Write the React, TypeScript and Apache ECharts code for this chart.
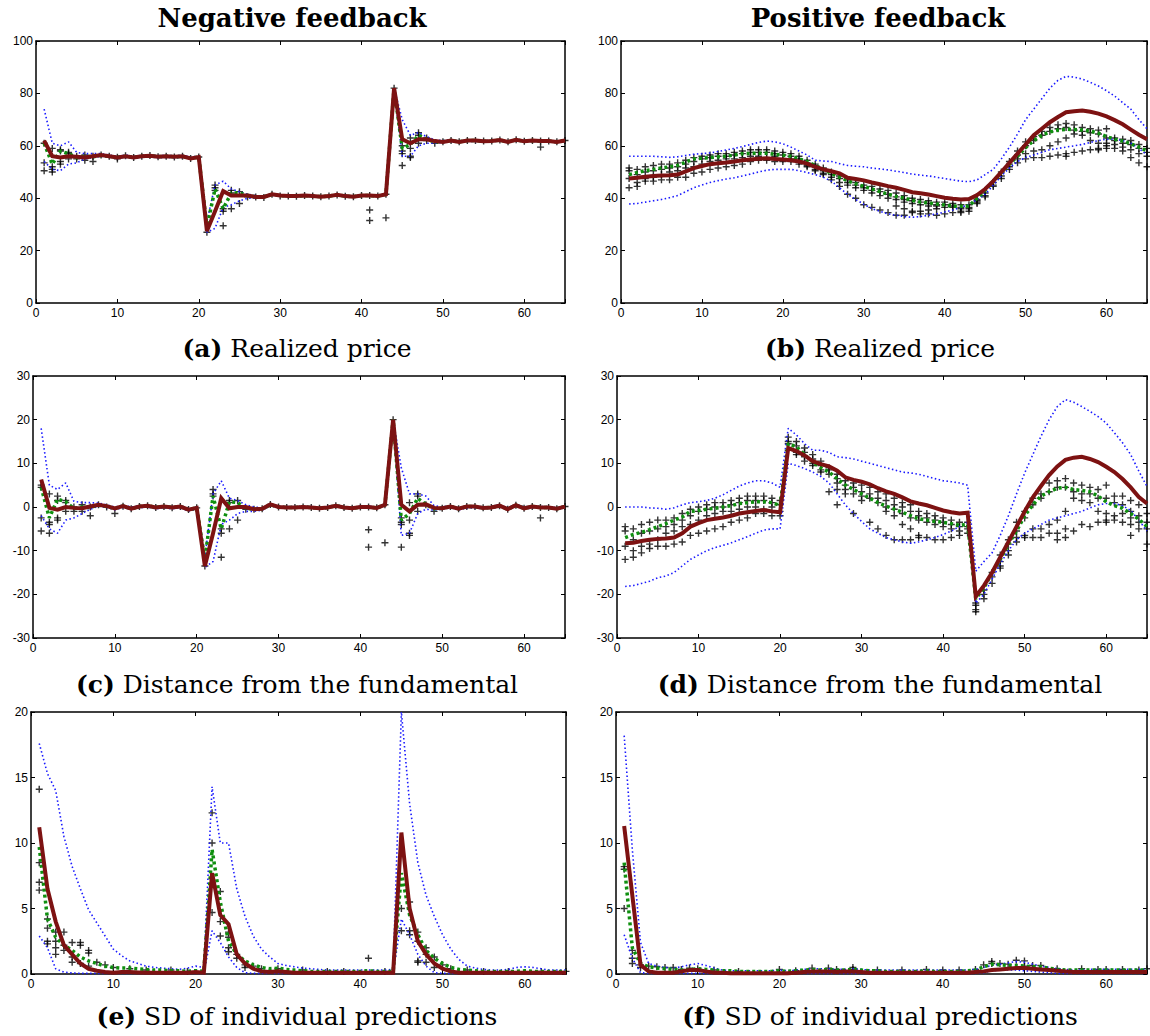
import React, { useEffect, useRef } from 'react';
import * as echarts from 'echarts';

// ---------- data ----------
const periods: number[] = Array.from({ length: 65 }, (_, i) => i + 1);

const columnTitles = ['Negative feedback', 'Positive feedback'];
const captionLetters = ['(a)', '(b)', '(c)', '(d)', '(e)', '(f)'];
const captionTexts = [
  'Realized price', 'Realized price',
  'Distance from the fundamental', 'Distance from the fundamental',
  'SD of individual predictions', 'SD of individual predictions',
];

// (a) negative feedback, realized price
const negPriceRed = [62, 56, 55.5, 56, 55.8, 55.5, 56, 56.5, 56, 55.5, 56, 55.5, 56, 56.2, 55.8, 56, 55.8, 56, 55.2, 55.7, 27.5, 35, 42.7, 41, 41, 41, 40.5, 40.5, 41.5, 41, 40.8, 40.8, 41, 40.8, 40.6, 40.8, 41.3, 40.8, 40.6, 41, 41, 40.8, 41.5, 82, 62.5, 61, 62.5, 62.5, 61.8, 61.5, 62, 61.5, 62, 62, 61.7, 61.8, 62.2, 61.5, 62.3, 61.7, 62, 61.8, 61.8, 61.5, 62];
const negPriceGreen = [61, 53, 58, 57, 55.5, 56, 55.8, 56.3, 56, 55.6, 56, 55.6, 56, 56.2, 55.8, 56, 55.8, 56, 55.3, 55.7, 29, 43.5, 36, 42, 42, 41, 40.5, 40.5, 41.4, 41, 40.8, 40.8, 41, 40.8, 40.6, 40.8, 41.3, 40.8, 40.6, 41, 41, 40.8, 41.5, 82, 59, 60.5, 64, 62.5, 61.5, 61.6, 62, 61.5, 62, 62, 61.7, 61.8, 62.2, 61.5, 62.3, 61.7, 62, 61.8, 61.8, 61.5, 62];
const negPriceHi = [74, 61, 60, 61.5, 57.5, 57, 57, 57, 56.5, 56, 56.5, 56, 56.4, 56.6, 56.2, 56.4, 56.2, 56.4, 55.8, 56, 31, 45, 46.5, 43.5, 42.5, 41.5, 41, 40.8, 41.7, 41.2, 41, 41, 41.2, 41, 40.8, 41, 41.5, 41, 40.8, 41.2, 41.2, 41, 41.7, 82, 70, 64, 65, 63.5, 62.3, 62, 62.3, 61.8, 62.2, 62.2, 62, 62, 62.4, 61.8, 62.5, 62, 62.2, 62, 62, 61.8, 62.2];
const negPriceLo = [54, 51, 50.5, 53, 53.5, 55, 55.5, 56, 55.6, 55.2, 55.6, 55.2, 55.6, 55.8, 55.4, 55.6, 55.4, 55.6, 54.9, 55.3, 27, 28.5, 36.5, 37.5, 39, 40, 40, 40.2, 41.2, 40.8, 40.6, 40.6, 40.8, 40.6, 40.4, 40.6, 41.1, 40.6, 40.4, 40.8, 40.8, 40.6, 41.3, 82, 56, 56, 60, 61, 61, 61.2, 61.7, 61.2, 61.7, 61.7, 61.4, 61.5, 61.9, 61.2, 62, 61.4, 61.7, 61.5, 61.5, 61.2, 61.7];
const negPriceCross: number[][] = [[1, 61], [1, 53.5], [1, 50.5], [2, 59], [2, 52], [2, 51], [2, 50], [3, 58.5], [3, 58], [3, 54], [3, 53], [4, 57.5], [4, 57], [4, 55], [5, 55], [5, 56], [6, 54.5], [6, 56.5], [7, 54], [7, 56], [8, 56.5], [9, 56], [10, 55], [10, 55.6], [11, 56.2], [12, 55.5], [13, 56], [14, 56.3], [15, 55.8], [16, 56], [17, 55.7], [18, 56], [19, 55.2], [20, 55.7], [21, 27], [22, 45], [22, 44], [22, 43], [23, 36], [23, 35], [23, 29.5], [24, 36], [24, 43], [24, 42], [25, 38], [25, 42.5], [26, 40.5], [27, 40.5], [28, 40.3], [29, 41.5], [30, 40.8], [31, 40.8], [32, 40.7], [33, 41], [34, 40.8], [35, 40.6], [36, 40.8], [37, 41.2], [38, 40.7], [39, 40.6], [40, 41], [41, 35.5], [41, 31.5], [41, 41], [42, 40.8], [43, 32.5], [43, 41.5], [44, 82], [45, 52.5], [45, 57], [45, 58], [45, 60], [46, 55.5], [46, 56], [46, 59], [46, 63], [47, 61], [47, 65], [47, 64], [48, 63], [48, 62], [49, 61], [50, 61.5], [51, 62], [52, 61.5], [53, 62], [54, 62], [55, 61.8], [56, 61.8], [57, 62.2], [58, 61.5], [59, 62.3], [60, 61.7], [61, 62], [62, 59.5], [62, 61.8], [63, 61.8], [64, 61.5], [65, 62]];

// (b) positive feedback, realized price
const posPriceRed = [47.5, 47.8, 48.2, 48.5, 48.7, 48.8, 49, 50.2, 51.5, 52.3, 53, 53.3, 53.6, 54, 54.5, 54.8, 55.1, 55.2, 55, 54.8, 54.5, 54, 53.2, 52, 51, 50.3, 49.5, 47.8, 47.3, 46.8, 46, 45.3, 44.6, 44, 43.2, 42.3, 41.9, 41.4, 40.8, 40.2, 39.8, 39.5, 39.7, 41.2, 43.5, 46.5, 50, 53.5, 57, 60.5, 64, 66.5, 69, 71, 72.8, 73.2, 73.5, 73, 72.3, 71.2, 69.8, 68.2, 66.2, 64.2, 62.5];
const posPriceGreen = [49, 49.8, 50.5, 51, 51.5, 52, 52.5, 53.8, 55, 55.3, 55.5, 55.8, 56, 56.5, 57, 57.1, 57.2, 57.2, 56.8, 56.4, 56, 55, 54, 52.5, 51, 49.5, 48, 46.7, 45.5, 44.5, 43.5, 42.5, 41.5, 40.7, 40, 39.2, 38.5, 38.2, 37.8, 37.4, 37, 36.9, 37, 40, 43, 46.5, 49.8, 53, 56, 59.3, 62, 64, 65.3, 66, 66.3, 66.2, 66, 65.6, 64.8, 63.5, 62.5, 61.8, 60.8, 59.5, 58];
const posPriceHi = [56, 56, 56, 56, 55.8, 55.6, 55.8, 56.3, 56.8, 57, 57.3, 57.8, 58.4, 59, 59.7, 60.5, 61.3, 61.8, 61.5, 60.8, 59.5, 58, 56.5, 54.5, 54.2, 54, 53.2, 52.5, 52.2, 52, 51.5, 51.2, 50.8, 50.3, 49.8, 49.2, 48.8, 48.5, 48, 47.5, 47, 46.5, 46.3, 47, 49, 51, 55, 59.5, 64.5, 70, 74, 78, 82, 85, 86.5, 86.2, 85.5, 84.2, 82.8, 81, 79, 76.5, 74, 70, 66.5];
const posPriceLo = [37.8, 38, 38.5, 39, 39.5, 40.2, 41, 42.5, 44, 45, 46, 46.7, 47.3, 47.8, 48.5, 49.2, 50, 50.7, 51, 51, 51, 50.5, 49.8, 49, 48, 46.5, 44, 41.5, 39.5, 37.7, 36, 35, 34, 33.5, 33, 32.7, 33, 33.5, 34, 34.7, 35.5, 36.5, 37.5, 39.5, 41.5, 45, 48.5, 51.5, 54, 55.5, 56.5, 57.5, 58.5, 59, 59.5, 60, 60.5, 61.3, 62, 62.5, 62.5, 62, 61, 59, 56.5];
// crosses listed per period (row k = period k+1)
const posPriceCross: number[][] = [
  [51.5, 50.5, 47.5, 44], [51, 49, 46, 44.5], [52, 50, 47.5, 46.5], [52.5, 50.5, 48, 46.5], [53, 51, 49, 47],
  [53, 51.5, 50, 47], [53.5, 52, 50.5, 48], [54.5, 53, 51.5, 48], [55.5, 54, 52, 49.5], [56, 55, 53, 50],
  [56.5, 55.5, 54, 51], [57, 56, 54.5, 51.5], [57, 56, 55, 52], [57.5, 56.5, 55, 52.5], [58, 57, 55.5, 53],
  [58.5, 57.5, 56, 54], [58.5, 57.5, 56, 54.5], [58.5, 57.5, 55.5, 54.5], [58, 57, 56, 54], [57.5, 56.5, 55, 54],
  [57, 56, 55, 54], [56, 55, 54, 53], [54.5, 53.5, 52.5, 52], [53, 52, 51, 50.5], [51.5, 50.5, 49.5, 49],
  [50, 49, 48, 47], [48.5, 47.5, 46, 44.5], [47, 46, 45, 41.5], [46, 45, 44, 40], [45, 44, 43, 37.5],
  [44.5, 43, 42, 36.5], [43.5, 42.5, 41, 35.5], [43, 41.5, 40, 34.5], [42, 40.5, 39.5, 37, 33.5], [41, 39.5, 38.5, 36, 33.5],
  [40, 39, 38, 35, 34.5], [39.5, 38.5, 37.5, 35, 34], [39, 38, 37, 35.5, 34], [38.5, 37.5, 37, 36, 33.5], [38.5, 37.5, 36.5, 34],
  [38, 37, 36.5, 34.5], [37.5, 36.5, 36, 35, 34.5], [37.5, 36.5, 36, 35], [39.5, 39, 38.5, 38], [42, 41, 40.5],
  [46, 45, 44.5], [50, 48.5, 47.5], [54, 53, 52, 51], [58, 56.5, 55, 53.5], [61.5, 60, 57, 55],
  [63.5, 62, 58, 55.5], [65.5, 64, 58.5, 55.5], [67, 65.5, 60, 56], [68, 66.5, 61.5, 56.5], [68.5, 67, 63, 57, 56],
  [68, 66, 64.5, 57.5], [67, 65.5, 64, 58], [66.5, 65, 62, 58.5], [66, 64.5, 61, 59, 58.5], [66.5, 63, 61, 60, 59],
  [63, 62, 60.5, 59], [62.5, 61, 59.5, 58], [62, 60.5, 58.5, 55.5], [60.5, 59, 57, 53.5], [59, 57.5, 56, 52],
];

// (c) negative feedback, distance from the fundamental
const negDistRed = [6.3, -0.2, -0.6, 0, -0.2, -0.3, 0.1, 0.5, 0.2, -0.3, 0.2, -0.4, 0.1, 0.3, -0.1, 0.1, -0.1, 0.1, -0.6, -0.2, -13.5, -6, 2, -0.3, 0, 0, -0.5, -0.4, 0.6, 0, -0.1, -0.1, 0, -0.1, -0.3, -0.1, 0.3, -0.1, -0.3, 0, 0, -0.2, 0.5, 20, 0.5, -1, 0.5, 0.6, -0.2, -0.3, 0.1, -0.4, 0.1, 0.1, -0.2, -0.1, 0.3, -0.5, 0.4, -0.3, 0.1, -0.1, -0.1, -0.4, 0.1];
const negDistGreen = [4.5, -2.5, 1.8, 1.2, -0.4, 0, -0.1, 0.4, 0.1, -0.3, 0.2, -0.4, 0.1, 0.3, -0.1, 0.1, -0.1, 0.1, -0.6, -0.2, -12, 2.5, -5, 1.2, 1, -0.3, -0.5, -0.4, 0.5, 0, -0.1, -0.1, 0, -0.1, -0.3, -0.1, 0.3, -0.1, -0.3, 0, 0, -0.2, 0.5, 20, -3, -1.5, 2, 0.6, -0.4, -0.3, 0.1, -0.4, 0.1, 0.1, -0.2, -0.1, 0.3, -0.5, 0.4, -0.3, 0.1, -0.1, -0.1, -0.4, 0.1];
const negDistHi = [18, 5, 4, 5.5, 1.3, 1, 1, 0.9, 0.5, 0, 0.4, 0, 0.3, 0.5, 0.1, 0.3, 0.1, 0.3, -0.3, 0, -11.5, 3, 6, 2, 1.5, 0.5, 0, -0.2, 0.8, 0.2, 0.1, 0.1, 0.2, 0.1, -0.1, 0.1, 0.5, 0.1, -0.1, 0.2, 0.2, 0, 0.7, 20, 9, 3, 3, 2.5, 0.3, 0, 0.3, -0.2, 0.3, 0.3, 0, 0.1, 0.5, -0.2, 0.6, 0, 0.3, 0.1, 0.1, -0.2, 0.3];
const negDistLo = [-2, -5, -6, -3, -2.5, -1.5, -0.5, 0.2, -0.1, -0.6, -0.1, -0.6, -0.2, 0, -0.4, -0.2, -0.4, -0.2, -0.9, -0.5, -13.8, -12.5, -4, -3, -1.5, -1, -1, -0.7, 0.3, -0.2, -0.3, -0.3, -0.2, -0.3, -0.5, -0.3, 0.1, -0.3, -0.5, -0.2, -0.2, -0.4, 0.3, 20, -6.5, -6, -1.5, -0.5, -0.7, -0.5, -0.2, -0.7, -0.2, -0.2, -0.4, -0.3, 0.1, -0.7, 0.2, -0.5, -0.2, -0.3, -0.3, -0.6, -0.1];
const negDistCross: number[][] = [[1, 5], [1, 4.5], [1, -2.5], [1, -5.5], [2, 3], [2, -3.5], [2, -4], [2, -6], [3, 2.5], [3, 1.5], [3, -2.5], [3, -3], [4, 1.5], [4, 1], [4, -1], [5, -1], [5, 0], [6, -1], [6, 0.5], [7, -2], [7, 0], [8, 0.5], [9, 0], [10, -1.5], [11, 0.2], [12, -0.4], [13, 0.1], [14, 0.3], [15, -0.1], [16, 0.1], [17, -0.2], [18, 0.1], [19, -0.6], [20, -0.2], [21, -13.5], [22, 4], [22, 3], [22, 2.5], [23, -5], [23, -6], [23, -11.5], [24, -5], [24, 1.5], [24, 1], [25, -3], [25, 1.5], [26, -0.5], [27, -0.5], [28, -0.4], [29, 0.6], [30, 0], [31, -0.1], [32, -0.1], [33, 0], [34, -0.1], [35, -0.3], [36, -0.1], [37, 0.3], [38, -0.1], [39, -0.3], [40, 0], [41, -5.2], [41, -9.2], [41, 0], [42, -0.2], [43, -8.2], [43, 0.5], [44, 20], [45, -3.5], [45, -4], [45, -9.2], [45, -2.5], [46, -6], [46, -6.5], [46, -3], [46, 1], [47, 3], [47, 2.5], [47, -1], [48, 0.5], [49, -1], [50, -0.3], [51, 0.1], [52, -0.4], [53, 0.1], [54, 0.1], [55, -0.2], [56, -0.1], [57, 0.3], [58, -0.5], [59, 0.4], [60, -0.3], [61, 0.1], [62, -2.5], [62, -0.1], [63, -0.1], [64, -0.4], [65, 0.1]];

// (d) positive feedback, distance from the fundamental
const posDistRed = [-8.3, -8.2, -7.8, -7.5, -7.3, -7.2, -7, -6, -4.5, -3.7, -3, -2.7, -2.4, -2, -1.5, -1.2, -0.9, -0.7, -1, -1.2, 13.5, 12.8, 11.8, 10.5, 9.8, 9.3, 8.3, 6.8, 6.2, 5.8, 5.2, 4.3, 3.6, 3, 2.2, 1.3, 0.8, 0.4, -0.2, -0.8, -1.2, -1.5, -1.3, -20.5, -18, -15, -11.5, -8, -4.5, -1, 2.2, 4.8, 7.3, 9.3, 10.8, 11.3, 11.5, 11, 10.3, 9.2, 8, 6.4, 4.5, 2.3, 0.8];
const posDistGreen = [-7, -6.3, -5.8, -5.2, -4.5, -3.8, -3, -2.3, -1, -0.8, -0.5, -0.3, 0, 0.3, 0.8, 1, 1.2, 1.2, 1, 0.3, 14.5, 13.8, 12, 10.3, 9, 8, 6.5, 5, 4, 3, 2, 1, 0.2, -0.5, -1.2, -2, -2.7, -3, -3.3, -3.5, -3.8, -4.2, -4, -21, -18.5, -15, -12, -8.5, -5.5, -2, 0.5, 2.5, 3.5, 4.3, 4.5, 4, 3.8, 3.5, 2.5, 1.2, 0.3, -0.3, -1.5, -2.8, -4.5];
const posDistHi = [0, 0, 0, -0.2, -0.3, -0.5, -0.2, 0.5, 1, 1.2, 1.5, 2, 2.8, 3.8, 4.8, 5.5, 6, 6, 5.5, 4.5, 18, 16.5, 14.5, 13, 13, 12.5, 11.5, 11.3, 11, 10.5, 10, 9.5, 9, 8.5, 8, 7.8, 7.5, 7, 6.5, 6, 5.8, 5.5, 5, -14.7, -12.5, -10.5, -6.5, -2, 3, 7.8, 12, 16.2, 20, 23, 24.6, 24, 23, 21.9, 20.7, 19.2, 17, 14.7, 12, 8.2, 4.7];
const posDistLo = [-18.2, -18, -17.5, -17, -16.2, -15.8, -15, -13.5, -12, -11, -10, -9.3, -8.8, -8.2, -7.5, -6.8, -6, -5.3, -5, -5, 10, 9.5, 8.8, 8, 7, 5.5, 3, 0.5, -1.5, -3.3, -5, -6, -7, -7.5, -8, -8.3, -8, -7.5, -7, -6.3, -5.5, -4.5, -3.5, -22, -20, -16.5, -13, -10, -7.5, -6, -5, -4, -3, -2.5, -2, -1.5, -1, -0.2, 0.5, 0.8, 0.8, 0.3, -0.8, -3, -5.5];
const posDistCross: number[][] = [
  [-4.5, -5.5, -9, -12], [-5, -7.5, -10, -11.5], [-4, -6, -9, -10.5], [-3.5, -5.5, -8.5, -9.5], [-3, -5, -7.5, -9],
  [-3, -4.5, -6, -9], [-2.5, -4, -5.5, -8.5], [-1.5, -3, -4.5, -8], [-0.5, -2, -4, -6.5], [0, -1, -3, -6],
  [0.5, -0.5, -2, -5.5], [1, 0, -1.5, -5], [1, 0, -1, -4.5], [1.5, 0.5, -1, -3.5], [2, 1, -0.5, -3],
  [2.5, 1.5, 0, -2.5], [2.5, 1.5, 0, -1.5], [2.5, 1.5, -0.5, -1.5], [2, 1, 0, -2], [1.5, 0.5, -1, -2],
  [16, 15, 14.5, 13], [15, 14, 12.5, 12], [13.5, 12.5, 11.5, 10.5], [12, 11, 10, 9.5], [10.5, 9.5, 8.5, 8],
  [9, 8.5, 7.5, 3.5], [7.5, 6.5, 5.5, 4, 0.5], [6, 5, 4, 3], [5.5, 4.5, 3, -1.5], [5, 3.5, 2.5, 1.5],
  [4.5, 3, 2, -3.5], [3.5, 2, 1, -5], [3, 1.5, 0, -1, -6.5], [2, 0.5, -0.5, -2, -7.5], [1, 0, -1.5, -4, -7.5],
  [0.5, -1, -2.5, -5, -7.5], [-1, -2, -3, -6.5, -7], [-1.5, -2.5, -3.5, -7], [-2, -3, -4, -7.5], [-2.5, -3.5, -4.5, -7.5],
  [-3, -4, -5, -7], [-3.5, -4.5, -5.5, -6.5], [-3.5, -4.5, -5, -6], [-22, -22.5, -23.5, -24], [-19, -20, -21],
  [-15, -16, -17.5], [-11, -12.5, -13.5, -14], [-7.5, -8.5, -10, -11], [-3.5, -5.5, -7, -8], [-1, -2.5, -6.5, -7],
  [2, 0.5, -5, -7], [3, 2, -5, -7], [5.5, 3.5, -4, -6], [6, 4.5, -3, -6, -7.5], [6.5, 4.5, -1, -5, -7],
  [5.5, 3.5, 2, -5.5], [5, 3, 1.5, -4], [4.5, 3, 1, -4.5], [4, 2, -1, -3.5], [5, 2, -1.5, -3, -3.5],
  [2.5, 1, -2, -3], [2.5, 0.5, -1.5, -3.5], [1.5, -1, -2.5, -4, -6.5], [0.5, -2, -3.5, -5], [-1.5, -3.5, -5, -8.5],
];

// (e) negative feedback, SD of individual predictions
const negSdRed = [11.2, 6.5, 4, 2.2, 1.5, 0.8, 0.4, 0.25, 0.15, 0.1, 0.15, 0.15, 0.12, 0.1, 0.1, 0.1, 0.1, 0.1, 0.1, 0.15, 0.1, 7.7, 4.5, 3.8, 1.5, 0.8, 0.4, 0.2, 0.15, 0.2, 0.15, 0.1, 0.1, 0.1, 0.1, 0.1, 0.1, 0.1, 0.1, 0.1, 0.1, 0.1, 0.1, 0.1, 10.8, 5, 2.5, 1.5, 0.8, 0.4, 0.2, 0.1, 0.1, 0.1, 0.1, 0.1, 0.1, 0.1, 0.1, 0.1, 0.1, 0.1, 0.1, 0.1, 0.1];
const negSdGreen = [9.7, 4.2, 2.8, 2.2, 1.8, 1.3, 1.0, 0.8, 0.6, 0.5, 0.45, 0.45, 0.4, 0.35, 0.3, 0.3, 0.25, 0.25, 0.2, 0.25, 0.2, 9.5, 5.5, 2.5, 1.5, 1.0, 0.7, 0.5, 0.4, 0.45, 0.35, 0.3, 0.25, 0.2, 0.2, 0.2, 0.2, 0.2, 0.2, 0.2, 0.25, 0.2, 0.2, 0.2, 7.7, 4.5, 3, 1.8, 1.2, 0.8, 0.5, 0.35, 0.3, 0.25, 0.2, 0.2, 0.2, 0.2, 0.2, 0.25, 0.2, 0.2, 0.2, 0.2, 0.2];
const negSdHi = [17.6, 15.3, 14, 10.5, 8.2, 6.5, 4.9, 3.9, 2.9, 1.9, 1.4, 1, 0.8, 0.6, 0.5, 0.45, 0.4, 0.35, 0.45, 0.6, 0.5, 14.3, 10, 10, 6.5, 4.4, 2.9, 1.9, 1.3, 0.8, 0.65, 0.55, 0.45, 0.4, 0.35, 0.3, 0.3, 0.3, 0.3, 0.3, 0.3, 0.3, 0.3, 0.35, 20, 13, 8.5, 6, 4.4, 3, 1.9, 1.1, 0.6, 0.45, 0.35, 0.3, 0.3, 0.35, 0.5, 0.55, 0.5, 0.4, 0.3, 0.3, 0.3];
const negSdLo = [2.9, 2, 0.4, 0.15, 0.08, 0.05, 0.05, 0.05, 0.05, 0.05, 0.05, 0.05, 0.05, 0.05, 0.05, 0.05, 0.05, 0.05, 0.05, 0.05, 0.05, 3.3, 2.4, 1.3, 0.5, 0.1, 0.05, 0.05, 0.05, 0.05, 0.05, 0.05, 0.05, 0.05, 0.05, 0.05, 0.05, 0.05, 0.05, 0.05, 0.05, 0.05, 0.05, 0.05, 4.2, 3, 1.5, 0.6, 0.1, 0.05, 0.05, 0.05, 0.05, 0.05, 0.05, 0.05, 0.05, 0.05, 0.05, 0.05, 0.05, 0.05, 0.05, 0.05, 0.05];
const negSdCross: number[][] = [[1, 14.1], [1, 8.5], [1, 7], [1, 6.4], [2, 4.2], [2, 3.5], [2, 2.5], [2, 2.3], [3, 3.2], [3, 2.5], [3, 2], [3, 1.5], [4, 3.2], [4, 2.2], [4, 1.8], [5, 2.4], [5, 1.3], [5, 0.9], [6, 2.4], [6, 2.2], [6, 0.8], [7, 1.8], [7, 1.6], [7, 0.6], [8, 0.9], [9, 0.7], [10, 0.5], [12, 0.4], [14, 0.3], [17, 0.3], [19, 0.2], [22, 12.3], [22, 10], [22, 4.7], [23, 6.3], [23, 4], [23, 2.9], [24, 3.2], [24, 2.8], [24, 2], [24, 1.7], [25, 1.5], [25, 1.2], [26, 0.7], [26, 0.5], [27, 0.6], [28, 0.4], [30, 0.4], [33, 0.3], [36, 0.2], [38, 0.2], [41, 1.2], [43, 0.2], [45, 5], [45, 3.3], [46, 5.5], [46, 3.3], [46, 3], [47, 3.2], [47, 2.5], [47, 1], [47, 0.9], [48, 2], [48, 1.5], [48, 0.9], [49, 1.3], [49, 0.5], [50, 0.7], [51, 0.4], [53, 0.3], [55, 0.2], [58, 0.2], [62, 0.2], [65, 0.2]];

// (f) positive feedback, SD of individual predictions
const posSdRed = [11.3, 6, 0.7, 0.2, 0.1, 0.1, 0.1, 0.2, 0.3, 0.3, 0.2, 0.1, 0.1, 0.05, 0.05, 0.05, 0.05, 0.05, 0.05, 0.05, 0.05, 0.1, 0.15, 0.2, 0.2, 0.2, 0.15, 0.2, 0.2, 0.15, 0.1, 0.1, 0.1, 0.1, 0.1, 0.1, 0.1, 0.1, 0.1, 0.1, 0.1, 0.1, 0.1, 0.15, 0.2, 0.3, 0.35, 0.4, 0.45, 0.45, 0.4, 0.35, 0.3, 0.25, 0.2, 0.15, 0.15, 0.15, 0.15, 0.15, 0.15, 0.15, 0.15, 0.15, 0.15];
const posSdGreen = [8.5, 2, 0.8, 0.55, 0.45, 0.4, 0.35, 0.3, 0.35, 0.4, 0.35, 0.3, 0.25, 0.25, 0.2, 0.2, 0.2, 0.2, 0.2, 0.25, 0.2, 0.25, 0.3, 0.35, 0.3, 0.35, 0.3, 0.3, 0.35, 0.3, 0.25, 0.25, 0.2, 0.2, 0.2, 0.2, 0.2, 0.25, 0.2, 0.2, 0.2, 0.2, 0.25, 0.3, 0.55, 0.75, 0.7, 0.65, 0.65, 0.6, 0.55, 0.55, 0.45, 0.35, 0.3, 0.3, 0.3, 0.3, 0.3, 0.3, 0.3, 0.3, 0.3, 0.3, 0.3];
const posSdHi = [18.2, 9.5, 2.4, 0.8, 0.6, 0.5, 0.45, 0.55, 0.7, 0.8, 0.65, 0.45, 0.3, 0.25, 0.25, 0.25, 0.25, 0.25, 0.25, 0.3, 0.25, 0.3, 0.35, 0.4, 0.4, 0.4, 0.35, 0.35, 0.4, 0.35, 0.3, 0.3, 0.3, 0.3, 0.3, 0.3, 0.3, 0.3, 0.3, 0.3, 0.3, 0.3, 0.3, 0.35, 0.5, 0.65, 0.75, 0.85, 0.95, 0.9, 0.75, 0.6, 0.5, 0.4, 0.35, 0.3, 0.3, 0.35, 0.35, 0.35, 0.35, 0.35, 0.35, 0.35, 0.35];
const posSdLo = [3, 1.2, 0.1, 0.05, 0.05, 0.05, 0.05, 0.05, 0.05, 0.05, 0.05, 0.05, 0.05, 0.05, 0.05, 0.05, 0.05, 0.05, 0.05, 0.05, 0.05, 0.05, 0.05, 0.05, 0.05, 0.05, 0.05, 0.05, 0.05, 0.05, 0.05, 0.05, 0.05, 0.05, 0.05, 0.05, 0.05, 0.05, 0.05, 0.05, 0.05, 0.05, 0.05, 0.05, 0.1, 0.25, 0.3, 0.3, 0.3, 0.25, 0.2, 0.15, 0.1, 0.05, 0.05, 0.05, 0.05, 0.05, 0.05, 0.05, 0.05, 0.05, 0.05, 0.05, 0.05];
const posSdCross: number[][] = [[1, 8.2], [1, 8], [1, 5], [2, 1.8], [2, 1.2], [2, 0.8], [3, 0.7], [3, 0.5], [4, 0.6], [5, 0.55], [6, 0.5], [7, 0.5], [8, 0.35], [9, 0.45], [10, 0.4], [12, 0.3], [15, 0.2], [20, 0.35], [22, 0.25], [24, 0.45], [26, 0.45], [27, 0.35], [29, 0.5], [29, 0.35], [32, 0.3], [35, 0.3], [38, 0.35], [40, 0.3], [42, 0.3], [44, 0.35], [45, 0.7], [46, 0.95], [46, 0.8], [47, 0.8], [48, 0.75], [49, 1.05], [50, 1.0], [50, 0.6], [51, 0.65], [52, 0.65], [54, 0.4], [57, 0.4], [59, 0.35], [60, 0.35], [62, 0.35], [64, 0.3], [65, 0.4]];

// y-axis ranges [min, max, step]
const yRanges = [
  [0, 100, 20], [0, 100, 20],
  [-30, 30, 10], [-30, 30, 10],
  [0, 20, 5], [0, 20, 5],
];
const xRange = [0, 65, 10];

// ---------- layout & style ----------
const boxes = [
  { left: 36, top: 41, width: 529, height: 262 },
  { left: 621, top: 41, width: 527, height: 262 },
  { left: 33, top: 376, width: 532, height: 262 },
  { left: 617, top: 376, width: 531, height: 262 },
  { left: 31, top: 712, width: 535, height: 262 },
  { left: 616, top: 712, width: 532, height: 262 },
];
const titlePos = [{ x: 292, y: 18 }, { x: 878, y: 18 }];
const captionPos = [
  { x: 297, y: 348 }, { x: 880, y: 348 },
  { x: 297, y: 684 }, { x: 880, y: 684 },
  { x: 297, y: 1016 }, { x: 880, y: 1016 },
];

const RED = '#7d1212';
const GREEN = '#0f8f0f';
const BLUE = '#1a1aff';
const SERIF = '"DejaVu Serif", "Liberation Serif", serif';
const SANS = '"Liberation Sans", Arial, sans-serif';
const PLUS = 'path://M-0.2,-1L0.2,-1L0.2,-0.2L1,-0.2L1,0.2L0.2,0.2L0.2,1L-0.2,1L-0.2,0.2L-1,0.2L-1,-0.2L-0.2,-0.2Z';

const toPairs = (arr: number[]) => periods.map((t, k) => [t, arr[k]]);
const crossPairs = (rows: number[][]) => rows.flatMap((vals, k) => vals.map((v) => [periods[k], v]));

const panels = [
  { red: negPriceRed, green: negPriceGreen, hi: negPriceHi, lo: negPriceLo, cross: negPriceCross },
  { red: posPriceRed, green: posPriceGreen, hi: posPriceHi, lo: posPriceLo, cross: crossPairs(posPriceCross) },
  { red: negDistRed, green: negDistGreen, hi: negDistHi, lo: negDistLo, cross: negDistCross },
  { red: posDistRed, green: posDistGreen, hi: posDistHi, lo: posDistLo, cross: crossPairs(posDistCross) },
  { red: negSdRed, green: negSdGreen, hi: negSdHi, lo: negSdLo, cross: negSdCross },
  { red: posSdRed, green: posSdGreen, hi: posSdHi, lo: posSdLo, cross: posSdCross },
];

function buildOption() {
  const axisLine = { show: true, onZero: false, lineStyle: { color: '#000', width: 1.5 } };
  const tick = { show: true, inside: true, length: 4, lineStyle: { color: '#000', width: 1 } };
  const label = { color: '#000', fontFamily: SANS, fontSize: 12 };

  const xAxes: any[] = [];
  const yAxes: any[] = [];
  boxes.forEach((_, i) => {
    xAxes.push({
      type: 'value', gridIndex: i, position: 'bottom',
      min: xRange[0], max: xRange[1], interval: xRange[2],
      axisLine, axisTick: tick, splitLine: { show: false },
      axisLabel: { ...label, margin: 4, formatter: (v: number) => (v % 10 === 0 ? String(v) : '') },
    });
  });
  boxes.forEach((_, i) => {
    xAxes.push({
      type: 'value', gridIndex: i, position: 'top',
      min: xRange[0], max: xRange[1], interval: xRange[2],
      axisLine, axisTick: tick, splitLine: { show: false }, axisLabel: { show: false },
    });
  });
  yRanges.forEach((r, i) => {
    yAxes.push({
      type: 'value', gridIndex: i, position: 'left',
      min: r[0], max: r[1], interval: r[2],
      axisLine, axisTick: tick, splitLine: { show: false },
      axisLabel: { ...label, margin: 3 },
    });
  });
  yRanges.forEach((r, i) => {
    yAxes.push({
      type: 'value', gridIndex: i, position: 'right',
      min: r[0], max: r[1], interval: r[2],
      axisLine, axisTick: tick, splitLine: { show: false }, axisLabel: { show: false },
    });
  });

  const series: any[] = [];
  panels.forEach((p, i) => {
    const common = { xAxisIndex: i, yAxisIndex: i, silent: true, animation: false };
    series.push({ ...common, type: 'line', data: toPairs(p.hi), symbol: 'none', lineStyle: { color: BLUE, width: 1.6, type: [1.5, 2.5] } });
    series.push({ ...common, type: 'line', data: toPairs(p.lo), symbol: 'none', lineStyle: { color: BLUE, width: 1.6, type: [1.5, 2.5] } });
    series.push({ ...common, type: 'line', data: toPairs(p.green), symbol: 'none', lineStyle: { color: GREEN, width: 3.5, type: [3, 3] } });
    series.push({ ...common, type: 'scatter', data: p.cross, symbol: PLUS, symbolSize: 7, itemStyle: { color: '#000' } });
    series.push({ ...common, type: 'line', data: toPairs(p.red), symbol: 'none', lineStyle: { color: RED, width: 4, join: 'miter' } });
  });

  const titles: any[] = [];
  columnTitles.forEach((t, i) => {
    titles.push({
      text: t, left: titlePos[i].x, top: titlePos[i].y, padding: 0,
      textAlign: 'center', textVerticalAlign: 'middle',
      textStyle: { fontFamily: SERIF, fontWeight: 'bold', fontSize: 26, color: '#000' },
    });
  });
  captionTexts.forEach((t, i) => {
    titles.push({
      text: `{b|${captionLetters[i]}}{r| ${t}}`, left: captionPos[i].x, top: captionPos[i].y, padding: 0,
      textAlign: 'center', textVerticalAlign: 'middle',
      textStyle: {
        rich: {
          b: { fontFamily: SERIF, fontWeight: 'bold', fontSize: 25, color: '#000' },
          r: { fontFamily: SERIF, fontWeight: 'normal', fontSize: 25, color: '#000' },
        },
      },
    });
  });

  return {
    animation: false,
    backgroundColor: '#ffffff',
    title: titles,
    grid: boxes.map((b) => ({ ...b, containLabel: false, show: false })),
    xAxis: xAxes,
    yAxis: yAxes,
    series,
  };
}

export default function App() {
  const ref = useRef<HTMLDivElement>(null);
  useEffect(() => {
    document.body.style.margin = '0';
    if (!ref.current) return;
    const chart = echarts.init(ref.current, undefined, { renderer: 'svg' });
    chart.setOption(buildOption() as any);
    return () => chart.dispose();
  }, []);
  return <div ref={ref} style={{ width: 1150, height: 1036, background: '#fff' }} />;
}
